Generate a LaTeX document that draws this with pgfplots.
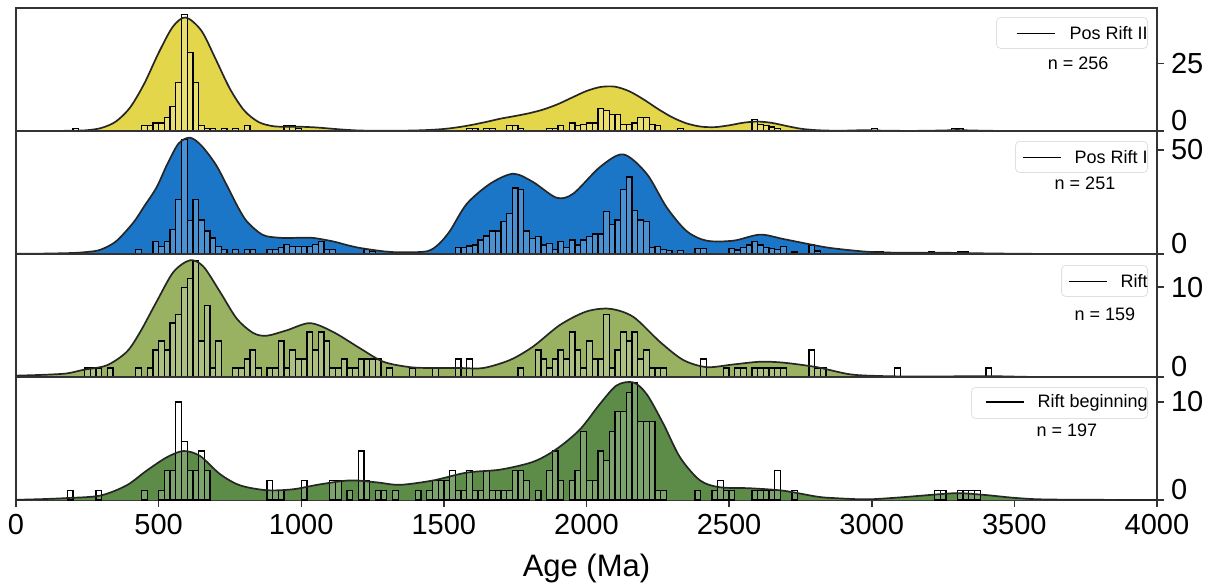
\documentclass[border=0pt]{standalone}
\usepackage{pgfplots}
\usepackage{pgfplotstable}
\pgfplotsset{compat=1.18}
\usepackage{fontspec}
\setmainfont{Liberation Sans}
\definecolor{cyel}{RGB}{228,214,74}
\definecolor{cblu}{RGB}{28,118,200}
\definecolor{clgr}{RGB}{152,178,98}
\definecolor{cdgr}{RGB}{92,140,72}
\newcommand\legfont{\fontsize{9}{10}\selectfont}

% ---------- KDE curves ----------
\pgfplotstableread{
x y
0 0
150 0.05
200 0.1
250 0.3
300 1.15
350 3.5
400 8.7
450 17.6
500 28.9
550 38.6
595 42
650 37.1
700 26.6
750 15.6
800 7.6
850 3.35
900 1.8
950 1.55
1000 1.56
1050 1.33
1100 0.91
1150 0.49
1200 0.2
1250 0.1
1300 0.08
1350 0.12
1400 0.2
1450 0.4
1500 0.75
1550 1.4
1600 2.3
1650 3.4
1700 4.6
1750 5.55
1800 6.6
1850 8.0
1900 9.95
1950 12.4
2000 14.8
2050 16.3
2100 16.4
2150 14.7
2200 11.7
2250 8.2
2300 5.1
2350 2.85
2400 1.64
2450 1.44
2500 2.1
2550 3.07
2600 3.5
2650 3.0
2700 1.89
2750 0.87
2800 0.35
2850 0.15
2900 0.12
2950 0.25
3000 0.25
3050 0.1
3150 0.05
3250 0.2
3300 0.35
3350 0.2
3450 0.03
3600 0
4000 0
}\kdeA
\pgfplotstableread{
x y
0 0.1
100 0.2
200 0.5
250 1
295 2
350 6
411 15
450 23
493 32
530 43
570 53
610 55.8
650 52
700 43
739 33
780 22
809 15.7
850 10.5
879 8.5
937 7.7
1000 7.8
1043 7.7
1113 6
1160 4.3
1206 2.9
1288 1.3
1350 0.8
1440 1.3
1480 4.5
1521 11
1580 24
1662 33.7
1743 38.5
1813 34.5
1895 27
1954 29
2047 41.7
2129 47.8
2211 38.5
2281 22.4
2351 11
2421 6.4
2515 6.4
2608 9.3
2690 7.2
2807 4
2866 2.7
2983 1.1
3100 0.6
3250 0.6
3400 0.3
3600 0.05
4000 0
}\kdeB
\pgfplotstableread{
x y
0 0.15
100 0.25
178 0.4
236 0.8
318 1.3
388 2.8
435 5
493 8.4
552 11.7
610 13
657 12.3
715 9.5
774 6.5
832 4.9
879 4.6
949 5.2
1031 6
1113 5
1206 3.2
1288 1.7
1381 1.1
1463 1
1560 1
1638 1
1732 1.9
1813 3.4
1907 5.8
2000 7.3
2082 7.6
2164 6.7
2258 3.9
2339 1.9
2421 1.1
2515 1.4
2608 1.7
2690 1.6
2807 1.1
2924 0.3
3041 0.1
3200 0.05
3400 0.1
3600 0
4000 0
}\kdeC
\pgfplotstableread{
x y
0 0.02
100 0.1
178 0.2
295 0.45
388 1.5
458 3
528 4.35
587 5
645 4.5
715 2.65
785 1.5
879 1.0
972 1.1
1066 1.6
1171 2.0
1265 1.8
1346 1.55
1463 2
1580 2.8
1697 3.1
1813 3.9
1895 5.2
1977 7.2
2047 9.8
2106 11.7
2164 12.0
2211 10.8
2269 7.8
2328 4.35
2398 2
2468 1.3
2573 1.2
2690 0.95
2807 0.35
2866 0.2
2983 0.07
3100 0.27
3240 0.6
3310 0.7
3403 0.5
3509 0.2
3626 0.05
4000 0
}\kdeD

% ---------- histograms (bin centres, 20 Ma bins) ----------
\pgfplotstableread{
x y
210 1
450 2
470 2
490 3
510 3
530 5
550 9
570 18
590 43
610 29
630 18
650 2
670 1
690 1
730 1
770 1
810 2
950 2
970 2
990 1
1590 1
1610 1
1650 1
1670 1
1730 2
1750 2
1770 1
1870 1
1890 1
1910 2
1950 3
1970 2
1990 2.5
2010 3
2030 3
2050 8.3
2070 7.5
2090 6.2
2110 6
2130 2.5
2150 2.5
2170 3
2190 5
2210 5
2230 2.5
2250 2
2330 1
2590 4.3
2610 2.5
2630 2
2650 1.5
2670 1
3010 1
3290 0.8
3310 0.8
}\histA
\pgfplotstableread{
x y
430 2
490 6
510 3.7
530 6
550 11.7
570 26
590 55
610 16
630 26
650 16.3
670 11
690 7.7
710 3.7
730 2
770 2
810 2
830 2
890 2
910 2
930 3
950 4.5
970 3.7
990 3.7
1010 3.7
1030 3.7
1050 4.5
1070 6
1090 2
1110 2
1230 2
1250 1.3
1550 3.2
1570 3.2
1590 3.8
1610 4.3
1630 6.7
1650 8.6
1670 11
1690 11
1710 15.5
1730 19.5
1750 31.6
1770 30.8
1790 11
1810 7.5
1830 8.3
1850 4.3
1870 5
1890 2
1910 6
1930 3.2
1950 6.7
1970 4.3
1990 6.7
2010 8.3
2030 9.6
2050 9.6
2070 20.4
2090 14
2110 16.3
2130 30.8
2150 37
2170 21
2190 16.3
2210 15.5
2230 3.2
2250 3.5
2270 2.2
2290 1.6
2330 1.6
2390 2.7
2410 2.7
2510 2.7
2530 1.9
2550 3.2
2570 4.3
2590 6
2610 4.3
2630 3.2
2650 2.7
2670 2
2690 3.5
2730 1
2790 4.3
2810 1.5
3010 1
3030 1
3210 1
3310 1
3330 1
}\histB
\pgfplotstableread{
x y
250 1
270 1
290 1
330 1
430 1
470 1
490 3
510 4
530 3
550 6
570 7
590 10
610 11
630 13
650 4
670 8
690 1
710 4
770 1
790 1
810 2
830 3
850 1
890 1
910 1
930 4
950 1
970 3
990 2
1010 2
1030 5
1050 3
1070 5
1090 4
1110 1
1130 1
1150 2
1170 1
1190 1
1210 2
1230 2
1250 2
1270 2
1310 1
1390 1
1470 1
1550 2
1590 2
1770 1
1830 3
1850 2
1870 1
1890 2
1910 3
1930 2
1950 5
1970 3
1990 1
2010 4
2030 2
2050 2
2070 7
2090 1
2110 3
2130 5
2150 4
2170 5
2190 2
2210 3
2230 1
2250 1
2270 1
2410 2
2490 1
2530 1
2550 1
2590 1
2610 1
2630 1
2650 1
2670 1
2690 1
2790 3
2810 1
2830 1
3090 1
3410 1
}\histC
\pgfplotstableread{
x y
190 1
290 1
450 1
510 1
530 3
550 3
570 10
590 6
610 3
630 3
650 5
670 3
890 2
910 1
930 1
1010 2
1110 2
1130 2
1170 1
1210 5
1230 2
1270 1
1290 1
1330 1
1410 1
1450 1
1470 2
1490 2
1510 2
1530 3
1550 1
1570 1
1590 3
1610 1
1630 1
1650 3
1670 1
1690 1
1710 1
1730 1
1750 3
1770 3
1790 2
1830 1
1870 3
1890 5
1910 2
1950 2
1970 3
1990 7
2010 2
2030 2
2050 5
2070 4
2090 7
2110 9
2130 9
2150 11
2170 12
2190 8
2210 8
2230 8
2250 1
2270 1
2390 1
2450 1
2470 2
2490 1
2510 1
2590 1
2610 1
2630 1
2650 1
2670 3
2730 1
3230 1
3250 1
3310 1
3330 1
3350 1
3370 1
}\histD

\pgfplotsset{panel/.style={
  width=570.5pt, height=61.5pt, scale only axis,
  xmin=0, xmax=4000, ymin=0,
  axis line style={draw=black!80, line width=0.75pt},
  xtick=\empty,
  ytick pos=right, yticklabel pos=right,
  tick align=outside, major tick length=3.5pt,
  every tick/.style={black!80, line width=0.75pt},
  ticklabel style={font=\fontsize{14.5}{16}\selectfont},
  /pgf/number format/assume math mode=true,
  /pgf/number format/1000 sep={},
  extra y ticks={0},
  extra y tick style={yticklabel style={anchor=base west, yshift=0.5pt}},
  clip mode=individual,
  anchor=north west,
},
kdefill/.style={draw=none, fill=#1, smooth, forget plot},
kdeline/.style={draw=black!85, line width=0.85pt, smooth, forget plot},
bars/.style={ybar, bar width=20, bar shift=0pt, draw=black, line width=0.65pt, fill=white, fill opacity=0.2, forget plot},
}
\tikzset{leg/.style={draw=black!12, rounded corners=2pt, fill=white, inner xsep=0pt, inner ysep=0pt, minimum height=15.5pt, anchor=north east, font=\legfont}}
\newcommand\legline{\rule[2.5pt]{19pt}{0.9pt}}

\begin{document}
\begin{tikzpicture}
\path[use as bounding box] (-8pt,4pt) rectangle (599.5pt,-289pt);

% Panel 1
\begin{axis}[panel, at={(0pt,0pt)}, ymax=45.5, ytick={25}]
\addplot[kdefill=cyel] table {\kdeA} \closedcycle;
\addplot[bars] table {\histA};
\addplot[kdeline] table {\kdeA};
\node[leg] at (rel axis cs:1,1) [xshift=-4.5pt,yshift=-4.5pt] {\hspace{10pt}\legline\hspace{7.5pt}Pos Rift II\hspace{7.5pt}};
\node[font=\legfont] at (rel axis cs:0.9308,0.549) {n = 256};
\end{axis}

% Panel 2
\begin{axis}[panel, at={(0pt,-61.5pt)}, ymax=59, ytick={50}]
\addplot[kdefill=cblu] table {\kdeB} \closedcycle;
\addplot[bars] table {\histB};
\addplot[kdeline] table {\kdeB};
\node[leg] at (rel axis cs:1,1) [xshift=-4.5pt,yshift=-5pt] {\hspace{3.5pt}\legline\hspace{7pt}Pos Rift I\hspace{4pt}};
\node[font=\legfont] at (rel axis cs:0.9369,0.577) {n = 251};
\end{axis}

% Panel 3
\begin{axis}[panel, at={(0pt,-123pt)}, ymax=13.7, ytick={10}]
\addplot[kdefill=clgr] table {\kdeC} \closedcycle;
\addplot[bars] table {\histC};
\addplot[kdeline] table {\kdeC};
\node[leg] at (rel axis cs:1,1) [xshift=-4.5pt,yshift=-5.5pt] {\hspace{3.5pt}\legline\hspace{7pt}Rift\hspace{4pt}};
\node[font=\legfont] at (rel axis cs:0.9544,0.512) {n = 159};
\end{axis}

% Panel 4
\begin{axis}[panel, at={(0pt,-184.5pt)}, ymax=12.55, ytick={10},
  xtick={0,500,...,4000}, xtick pos=bottom,
  xlabel={Age (Ma)},
  xlabel style={font=\fontsize{15.5}{17}\selectfont, at={(axis description cs:0.5,0)}, anchor=center, yshift=-34pt}]
\addplot[kdefill=cdgr] table {\kdeD} \closedcycle;
\addplot[bars] table {\histD};
\addplot[kdeline] table {\kdeD};
\node[leg] at (rel axis cs:1,1) [xshift=-4.5pt,yshift=-5pt] {\hspace{7pt}\legline\hspace{7pt}Rift beginning\hspace{4pt}};
\node[font=\legfont] at (rel axis cs:0.9211,0.569) {n = 197};
\end{axis}
\end{tikzpicture}
\end{document}
